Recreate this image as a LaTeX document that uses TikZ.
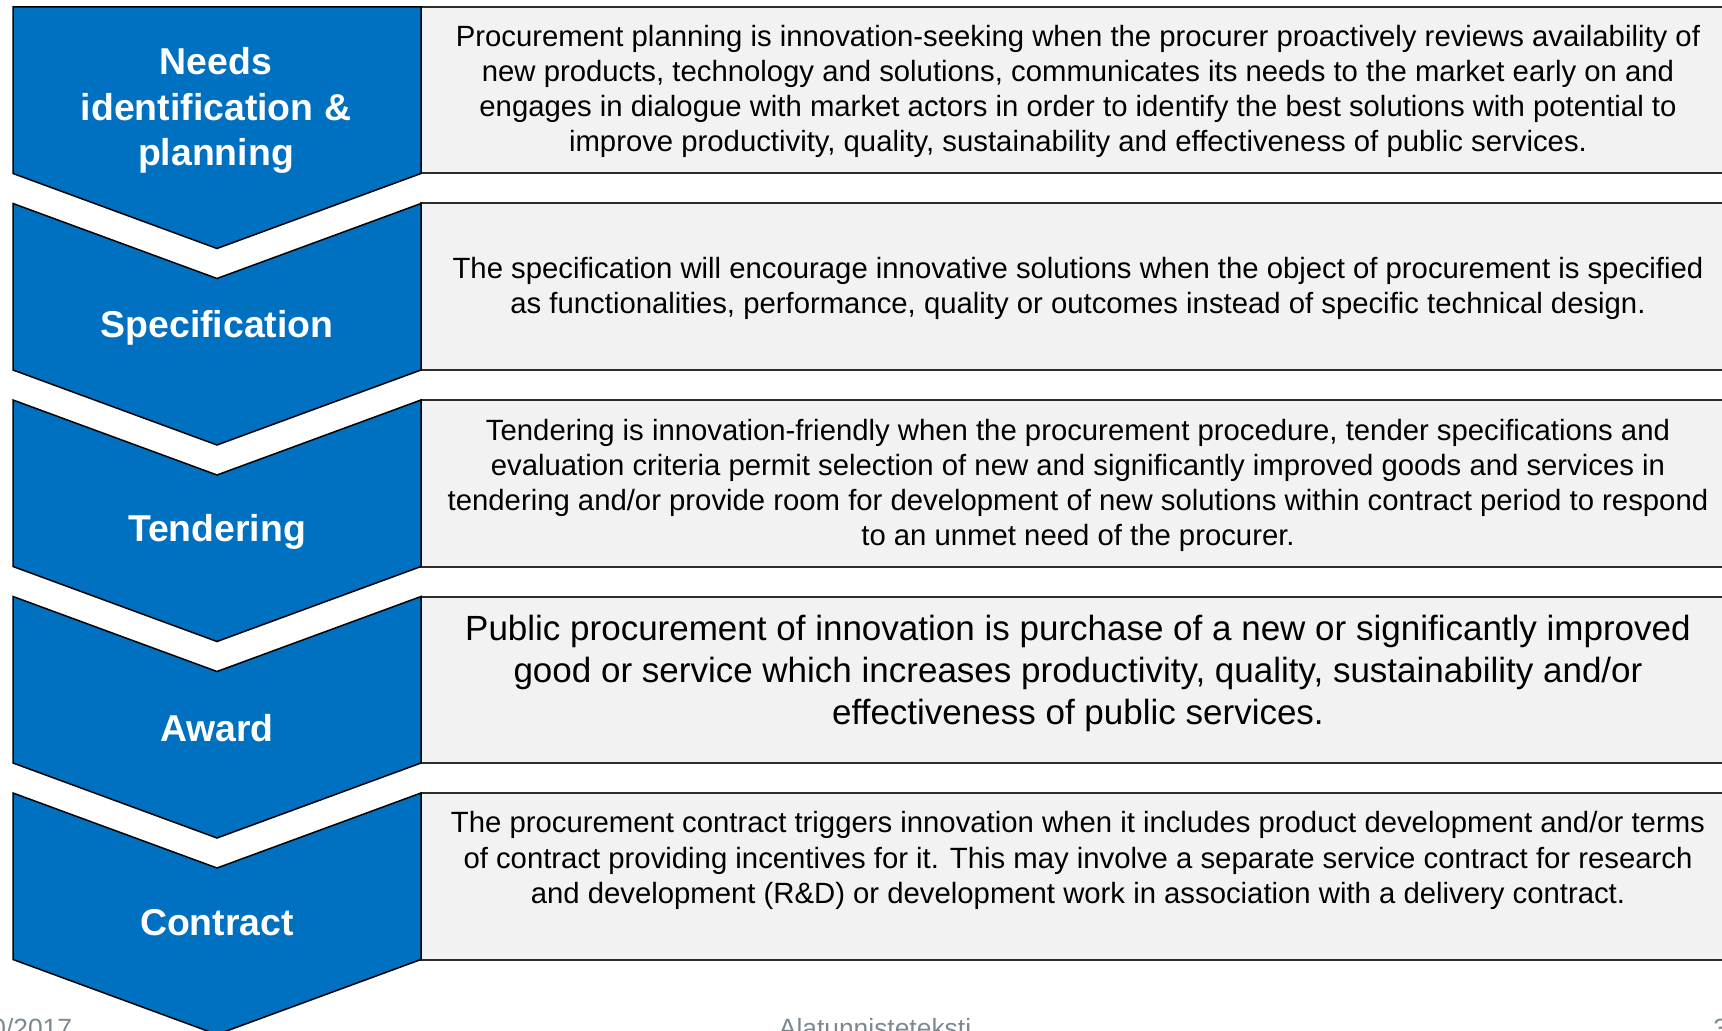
\documentclass[tikz,border=0pt]{standalone}
\usepackage{fontspec}
\setmainfont{Liberation Sans}
\definecolor{chevblue}{RGB}{0,112,192}
\definecolor{boxgray}{RGB}{242,242,242}
\definecolor{boxline}{RGB}{45,45,45}
\definecolor{footgray}{RGB}{125,137,143}
\begin{document}
\begin{tikzpicture}[x=0.5pt,y=-0.5pt,
  chev/.style={fill=chevblue, draw=black, line width=0.75pt, line join=miter},
  descbox/.style={fill=boxgray, draw=boxline, line width=1pt},
  chevlabel/.style={text=white, font=\fontsize{18.7pt}{22.75pt}\selectfont\bfseries, align=center, inner sep=0pt},
  desc/.style={font=\fontsize{14.65pt}{17.6pt}\selectfont, align=center, text=black, inner sep=0pt},
  bigdesc/.style={font=\fontsize{17.5pt}{20.9pt}\selectfont, align=center, text=black, inner sep=0pt},
  foot/.style={font=\fontsize{13.2pt}{15pt}\selectfont, text=footgray, inner sep=0pt}]
\useasboundingbox (0,0) rectangle (1722,1031);
\clip (0,0) rectangle (1722,1031);
% boxes
\foreach \t in {7,203.5,400,596.5,793}{
  \draw[descbox] (421,\t) rectangle (1730,\t+166.5);
}
% first chevron (flat top)
\draw[chev] (13,7) -- (421,7) -- (421,173.5) -- (217,248.5) -- (13,173.5) -- cycle;
% remaining chevrons (notched)
\foreach \t in {203.5,400,596.5,793}{
  \draw[chev] (13,\t) -- (217,\t+75) -- (421,\t) -- (421,\t+166.5) -- (217,\t+241.5) -- (13,\t+166.5) -- cycle;
}
% labels
\node[chevlabel] (l1) at (216,110.5) {Needs\\identification \&\\planning};
\node[chevlabel] (l2) at (217,327.5) {Specification};
\node[chevlabel] (l3) at (217,532) {Tendering};
\node[chevlabel] (l4) at (217,728) {Award};
\node[chevlabel] (l5) at (217,923) {Contract};
% descriptions
\node[desc] (d1) at (1078,91.5) {Procurement planning is innovation-seeking when the procurer proactively reviews availability of\\new products, technology and solutions, communicates its needs to the market early on and\\engages in dialogue with market actors in order to identify the best solutions with potential to\\improve productivity, quality, sustainability and effectiveness of public services.};
\node[desc] (d2) at (1078,288.5) {The specification will encourage innovative solutions when the object of procurement is specified\\as functionalities, performance, quality or outcomes instead of specific technical design.};
\node[desc] (d3) at (1078,485.5) {Tendering is innovation-friendly when the procurement procedure, tender specifications and\\evaluation criteria permit selection of new and significantly improved goods and services in\\tendering and/or provide room for development of new solutions within contract period to respond\\to an unmet need of the procurer.};
\node[bigdesc] (d4) at (1078,673.5) {Public procurement of innovation is purchase of a new or significantly improved\\good or service which increases productivity, quality, sustainability and/or\\effectiveness of public services.};
\node[desc] (d5) at (1078,860.5) {The procurement contract triggers innovation when it includes product development and/or terms\\of contract providing incentives for it. This may involve a separate service contract for research\\and development (R\&D) or development work in association with a delivery contract.};
% footer
\node[foot, anchor=base east] (f1) at (72.5,1037) {0/2017};
\node[foot, anchor=base] (f2) at (875,1037) {Alatunnisteteksti};
\node[foot, anchor=base west] (f3) at (1713,1037) {3};
\end{tikzpicture}
\end{document}
